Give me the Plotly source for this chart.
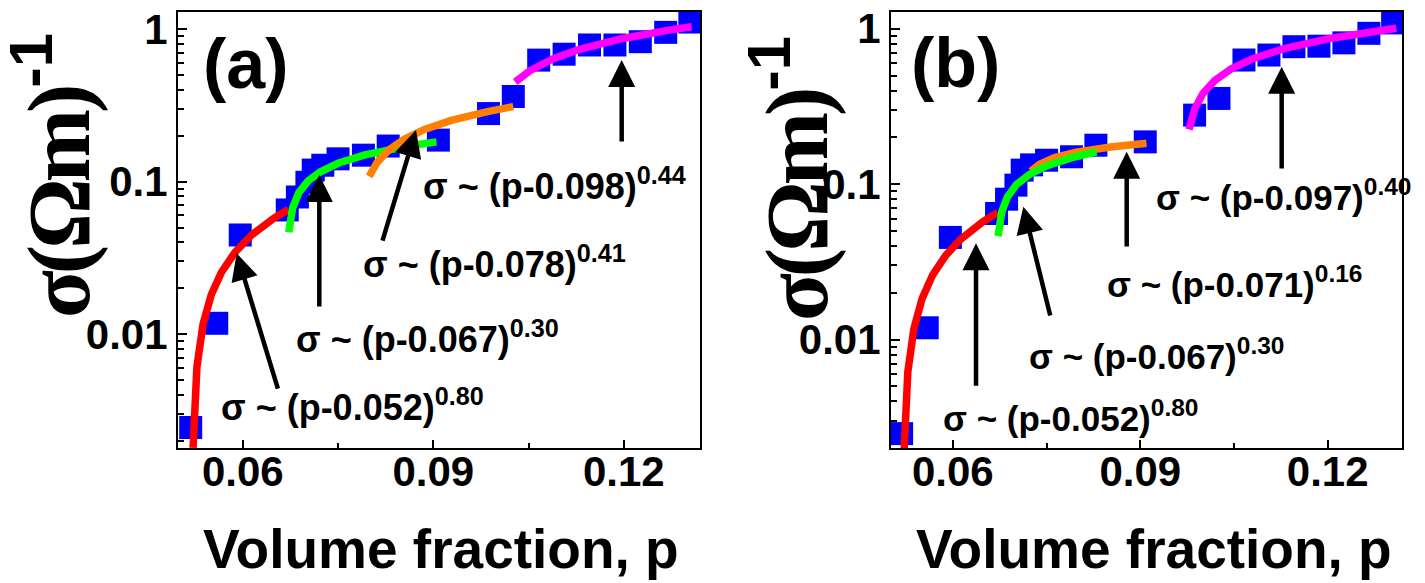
import numpy as np
import plotly.graph_objects as go

W, H = 1425, 583

# ---------------- data ----------------
p_vals = [0.0518, 0.0559, 0.0596, 0.0670, 0.0686, 0.0701, 0.0711, 0.0726, 0.0750,
          0.0790, 0.0829, 0.0908, 0.0987, 0.1026, 0.1066, 0.1106, 0.1146, 0.1186,
          0.1226, 0.1266, 0.1304]
sigma_a = [0.00245, 0.0118, 0.0447, 0.0652, 0.0793, 0.099, 0.119, 0.128, 0.141,
           0.149, 0.171, 0.187, 0.279, 0.361, 0.625, 0.683, 0.785, 0.785,
           0.825, 0.95, 1.11]
sigma_b = [0.00248, 0.0119, 0.0454, 0.0647, 0.080, 0.0985, 0.123, 0.133, 0.1425,
           0.150, 0.178, 0.187, 0.278, 0.356, 0.629, 0.677, 0.766, 0.772,
           0.811, 0.934, 1.09]

# power-law fits sigma = A (p - pc)^t drawn over [p_start, p_end]
fits_a = [  # pc, t, A, p_start, p_end, colour
    (0.052, 0.80, 1.87, 0.05217, 0.0672, "#FF0000"),
    (0.067, 0.30, 0.561, 0.06725, 0.0905, "#00FF00"),
    (0.078, 0.41, 1.415, 0.0799, 0.1026, "#FF8000"),
    (0.098, 0.44, 4.66, 0.1029, 0.1307, "#FF00FF"),
]
fits_b = [
    (0.052, 0.80, 1.87, 0.05217, 0.0672, "#FF0000"),
    (0.071, 0.16, 0.3424, 0.0725, 0.0910, "#FF8000"),
    (0.067, 0.30, 0.557, 0.06725, 0.0830, "#00FF00"),
    (0.097, 0.40, 3.89, 0.0978, 0.1310, "#FF00FF"),
]
labels_a = ["(p-0.052)", "(p-0.067)", "(p-0.078)", "(p-0.098)"]
exps_a = ["0.80", "0.30", "0.41", "0.44"]
labels_b = ["(p-0.052)", "(p-0.067)", "(p-0.071)", "(p-0.097)"]
exps_b = ["0.80", "0.30", "0.16", "0.40"]

x_ticks = [0.06, 0.09, 0.12]
x_ticktext = ["0.06", "0.09", "0.12"]
y_ticks = [0.01, 0.1, 1]
y_ticktext = ["0.01", "0.1", "1"]

# arrows: (tip p, tip sigma, tail p, tail sigma)
arrows_a = [(0.05904, 0.0339, 0.06560, 0.00431),
            (0.07205, 0.1105, 0.07205, 0.01486),
            (0.08728, 0.2178, 0.08193, 0.0402),
            (0.11967, 0.626, 0.11967, 0.179)]
arrows_b = [(0.06371, 0.0416, 0.06371, 0.00493),
            (0.07128, 0.0716, 0.07565, 0.01396),
            (0.08783, 0.1616, 0.08783, 0.0388),
            (0.11264, 0.5695, 0.11264, 0.1233)]

# ---------------- figure ----------------
fig = go.Figure()
SANS = "Liberation Sans"

def add_panel(xa, ya, sig, fits):
    fig.add_trace(go.Scatter(x=p_vals, y=sig, mode="markers", xaxis=xa, yaxis=ya,
                             marker=dict(symbol="square", size=23, color="#0000FF",
                                         line=dict(width=0)),
                             showlegend=False, hoverinfo="skip"))
    for pc, t, A, p0, p1, col in fits:
        d = np.geomspace(p0 - pc, p1 - pc, 300)
        pp = pc + d
        fig.add_trace(go.Scatter(x=pp, y=A * d ** t, mode="lines", xaxis=xa, yaxis=ya,
                                 line=dict(color=col, width=7.5),
                                 showlegend=False, hoverinfo="skip"))

add_panel("x", "y", sigma_a, fits_a)
add_panel("x2", "y2", sigma_b, fits_b)

def xaxis_cfg(d0, d1, r0, r1):
    return dict(domain=[d0 / W, d1 / W], range=[r0, r1], tickmode="array",
                tickvals=x_ticks, ticktext=x_ticktext, ticks="inside", ticklen=8,
                tickwidth=2, tickcolor="black", ticklabelstandoff=-14,
                minor=dict(ticks="inside", ticklen=5, tickwidth=1.5, dtick=0.015,
                           tick0=0, tickcolor="black", showgrid=False),
                showline=True, mirror=True, linewidth=2, linecolor="black",
                showgrid=False, zeroline=False,
                tickfont=dict(family=SANS, size=42, color="black", weight="bold"))

def yaxis_cfg(r0, r1, anchor):
    return dict(type="log", domain=[1 - 448 / H, 1 - 12 / H], range=[r0, r1],
                tickmode="array", tickvals=y_ticks, ticktext=y_ticktext,
                ticks="inside", ticklen=9, tickwidth=2, tickcolor="black",
                minor=dict(ticks="inside", ticklen=6, tickwidth=1.5, dtick="D1",
                           tickcolor="black", showgrid=False),
                showline=True, mirror=True, linewidth=2, linecolor="black",
                showgrid=False, zeroline=False, anchor=anchor,
                tickfont=dict(family=SANS, size=42, color="black", weight="bold"))

fig.update_layout(
    width=W, height=H, margin=dict(l=0, r=0, t=0, b=0, autoexpand=False),
    paper_bgcolor="white", plot_bgcolor="white",
    xaxis=dict(xaxis_cfg(178, 700, 0.0498, 0.132), anchor="y"),
    yaxis=yaxis_cfg(-2.745, 0.111, "x"),
    xaxis2=dict(xaxis_cfg(891, 1402, 0.0501, 0.1319), anchor="y2"),
    yaxis2=yaxis_cfg(-2.698, 0.1076, "x2"),
)

ann = []
for (xr, yr, arrows) in [("x", "y", arrows_a), ("x2", "y2", arrows_b)]:
    for tp, ts, sp, ss in arrows:
        ann.append(dict(x=tp, y=np.log10(ts), ax=sp, ay=np.log10(ss), xref=xr, yref=yr,
                        axref=xr, ayref=yr, text="", showarrow=True, arrowhead=2,
                        arrowwidth=4.5, arrowsize=1.2, arrowcolor="black"))

def txt(xpx, ypx, s, size, **kw):
    d = dict(x=xpx / W, y=1 - ypx / H, xref="paper", yref="paper", text=s,
             showarrow=False, font=dict(family=SANS, size=size, color="black", weight="bold"))
    d.update(kw)
    ann.append(d)

pos_a = [(219, 405), (294, 337), (361, 262), (421, 184)]
pos_b = [(941, 416), (1027, 354), (1105, 282), (1154, 195)]
for (x0, y0), lab, ex in zip(pos_a, labels_a, exps_a):
    txt(x0, y0, "σ ~ " + lab + "<sup>" + ex + "</sup>", 36, xanchor="left", yanchor="middle")
for (x0, y0), lab, ex in zip(pos_b, labels_b, exps_b):
    txt(x0, y0, "σ ~ " + lab + "<sup>" + ex + "</sup>", 35, xanchor="left", yanchor="middle")

txt(246, 64, "(a)", 70, xanchor="center", yanchor="middle")
txt(955, 63, "(b)", 70, xanchor="center", yanchor="middle")
txt(441, 549, "Volume fraction, p", 55, xanchor="center", yanchor="middle")
txt(1154, 549, "Volume fraction, p", 55, xanchor="center", yanchor="middle")

ytitle = ('<span style="font-family:Liberation Serif;letter-spacing:-4px">σ(Ωm)</span>'
          '<sup>-1</sup>')
txt(52, 176, ytitle, 88, xanchor="center", yanchor="middle", textangle=-90)
txt(790, 178, ytitle, 88, xanchor="center", yanchor="middle", textangle=-90)

fig.update_layout(annotations=ann)
fig.write_html("out.html", config={"displayModeBar": False},
               post_script="document.body.style.margin='0px';")
